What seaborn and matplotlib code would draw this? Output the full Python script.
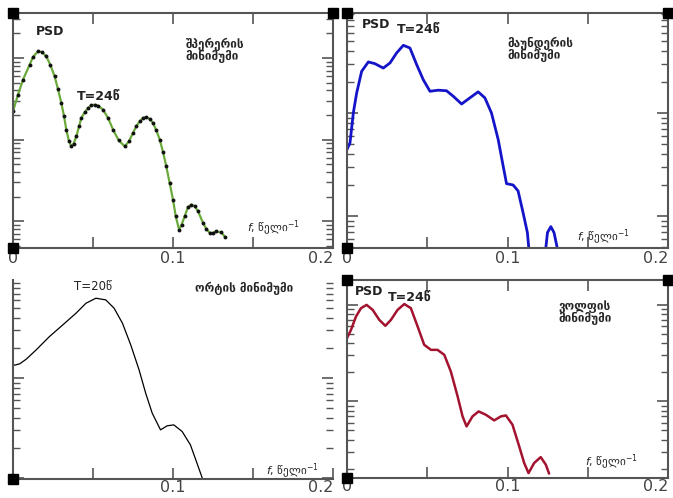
"""
PSD spectra of four solar minima (2x2 panels)
"""

import numpy as np
import pandas as pd
import matplotlib
matplotlib.use('Agg')
import matplotlib.pyplot as plt
import seaborn as sns

# --- data ---
# Spörer minimum
sporer_f = [0.0, 0.003125, 0.00625, 0.0104, 0.0125, 0.0156, 0.0183, 0.0208, 0.0233, 0.026,
            0.0281, 0.0302, 0.0319, 0.0333, 0.035, 0.0365, 0.0379, 0.0396, 0.0413, 0.0427,
            0.0448, 0.0469, 0.049, 0.051, 0.0531, 0.0563, 0.0594, 0.0625, 0.066, 0.0698,
            0.0725, 0.075, 0.0771, 0.0792, 0.0813, 0.0833, 0.0854, 0.0875, 0.0896, 0.0917,
            0.0938, 0.0958, 0.0979, 0.1, 0.1017, 0.1038, 0.1054, 0.1073, 0.1094, 0.1115,
            0.1135, 0.1156, 0.1188, 0.1208, 0.1229, 0.125, 0.1271, 0.1302, 0.1323]
sporer_psd = [22.2, 35.6, 54.3, 82.8, 102.9, 120.7, 117.3, 104.8, 82.8, 59.6,
              41.7, 28.1, 19.3, 13.3, 9.54, 8.28, 8.93, 11.0, 14.6, 18.4,
              21.6, 24.4, 26.3, 26.8, 26.1, 23.3, 18.4, 13.3, 9.81, 8.28,
              9.54, 12.1, 14.6, 16.8, 18.4, 18.9, 17.9, 16.0, 13.0, 10.0,
              7.0, 4.71, 2.95, 1.84, 1.15, 0.79, 0.91, 1.15, 1.50, 1.60,
              1.53, 1.33, 0.95, 0.81, 0.72, 0.72, 0.75, 0.73, 0.65]

# Maunder minimum (two pieces, the curve leaves the axis in between)
maunder_f1 = [0.0, 0.00187, 0.00394, 0.00602, 0.00913, 0.0133, 0.0174, 0.0226, 0.0268,
              0.0309, 0.0351, 0.0392, 0.0434, 0.0475, 0.0517, 0.0568, 0.062, 0.0662,
              0.0714, 0.0766, 0.0817, 0.0859, 0.09, 0.0942, 0.0973, 0.0994, 0.1035,
              0.1066, 0.1097, 0.1124, 0.1145]
maunder_psd1 = [4.42, 5.12, 10.0, 15.6, 25.3, 31.2, 30.0, 27.2, 30.5,
                38.1, 45.2, 42.6, 29.4, 21.0, 16.2, 16.6, 16.4, 14.5,
                12.2, 14.0, 16.0, 14.0, 10.0, 5.52, 3.05, 2.06, 2.00,
                1.75, 1.08, 0.69, 0.3]
maunder_f2 = [0.1224, 0.1249, 0.127, 0.129, 0.1315]
maunder_psd2 = [0.3, 0.69, 0.79, 0.69, 0.45]

# Oort minimum
oort_f = [0.0, 0.00415, 0.00829, 0.0145, 0.0228, 0.0311, 0.0394, 0.0456, 0.0518, 0.058,
          0.0632, 0.0684, 0.0736, 0.0788, 0.0829, 0.087, 0.0922, 0.0964, 0.1005, 0.1057,
          0.1109, 0.115, 0.1185]
oort_psd = [1.34, 1.39, 1.55, 1.92, 2.61, 3.41, 4.47, 5.62, 6.31, 6.07,
            5.01, 3.55, 2.15, 1.21, 0.71, 0.447, 0.304, 0.334, 0.341, 0.293,
            0.215, 0.141, 0.098]

# Wolf minimum
wolf_f = [0.0, 0.00249, 0.0056, 0.00871, 0.0122, 0.016, 0.0201, 0.0239, 0.0274, 0.0315,
          0.0357, 0.0398, 0.044, 0.0481, 0.0523, 0.0564, 0.0606, 0.0647, 0.0689, 0.072,
          0.0745, 0.0782, 0.082, 0.0865, 0.0917, 0.0959, 0.099, 0.1031, 0.1073, 0.1104,
          0.1131, 0.1166, 0.1207, 0.1239, 0.1259]
wolf_psd = [4.52, 5.51, 7.57, 9.24, 10.0, 8.88, 7.0, 6.07, 7.0, 8.88,
            10.2, 9.24, 5.97, 3.86, 3.42, 3.42, 3.04, 2.04, 1.13, 0.70,
            0.551, 0.70, 0.788, 0.728, 0.636, 0.70, 0.716, 0.574, 0.342, 0.230,
            0.181, 0.230, 0.265, 0.221, 0.179]

x_ticks = [0, 0.05, 0.1, 0.15, 0.2]
x_ticklabels = ['0', '', '0.1', '', '0.2']

f_label = r'$f$, წელი$^{-1}$'

sns.set_style('white')
plt.rcParams['font.family'] = ['DejaVu Sans']

fig = plt.figure(figsize=(6.73, 4.98), dpi=100)
W, H = 673, 498


def add_panel(x0, y0, x1, y1):
    return fig.add_axes([x0 / W, 1 - y1 / H, (x1 - x0) / W, (y1 - y0) / H])


def style_panel(ax, ylim, labels=x_ticklabels, frame=True, corners=(), pad=2):
    ax.set_yscale('log')
    ax.set_xlim(0, 0.2)
    ax.set_ylim(*ylim)
    ax.set_xticks(x_ticks)
    ax.set_xticklabels(labels, fontsize=11.5, color='#444444')
    ax.get_xticklabels()[-1].set_ha('right')
    ax.set_xlabel('')
    ax.set_ylabel('')
    ax.tick_params(axis='both', which='both', direction='in', color='#555555',
                   left=True, right=True, top=frame, bottom=True,
                   labelleft=False, pad=pad)
    ax.tick_params(axis='both', which='major', length=8, width=1.2)
    ax.tick_params(axis='y', which='minor', length=5, width=1.0)
    for sp in ax.spines.values():
        sp.set_color('#555555')
        sp.set_linewidth(1.5)
    if not frame:
        ax.spines['top'].set_visible(False)
        ax.spines['right'].set_visible(False)
    for cx, cy in corners:
        ax.plot([cx], [cy], 's', color='black', ms=7, transform=ax.transAxes,
                clip_on=False, zorder=5)


# --- Spörer ---
ax1 = add_panel(13, 13, 333, 248)
df = pd.DataFrame({'f': sporer_f, 'psd': sporer_psd})
sns.lineplot(data=df, x='f', y='psd', ax=ax1, color='#6aaa3a', linewidth=1.6,
             marker='o', markersize=2.8, markeredgewidth=0, markerfacecolor='#111111')
style_panel(ax1, (0.47, 356), corners=[(0, 1), (1, 1), (0, 0)])
ax1.text(0.07, 0.92, 'PSD', transform=ax1.transAxes, fontsize=9, fontweight='bold',
         color='#222222', va='center')
ax1.text(0.2, 0.647, 'T=24წ', transform=ax1.transAxes, fontsize=9, fontweight='bold',
         color='#222222', va='center')
ax1.text(0.54, 0.895, 'შპერერის\nმინიმუმი', transform=ax1.transAxes, fontsize=8.5,
         fontweight='bold', va='top', linespacing=0.95)
ax1.text(0.73, 0.085, f_label, transform=ax1.transAxes, fontsize=8, va='center')

# --- Maunder ---
ax2 = add_panel(347, 13, 668, 248)
sns.lineplot(x=maunder_f1, y=maunder_psd1, ax=ax2, color='#1414c8', linewidth=2)
sns.lineplot(x=maunder_f2, y=maunder_psd2, ax=ax2, color='#1414c8', linewidth=2)
style_panel(ax2, (0.49, 93), corners=[(0, 1), (1, 1), (0, 0)])
ax2.text(0.047, 0.95, 'PSD', transform=ax2.transAxes, fontsize=9, fontweight='bold',
         color='#222222', va='center')
ax2.text(0.155, 0.93, 'T=24წ', transform=ax2.transAxes, fontsize=9, fontweight='bold',
         color='#222222', va='center')
ax2.text(0.5, 0.9, 'მაუნდერის\nმინიმუმი', transform=ax2.transAxes, fontsize=8.5,
         fontweight='bold', va='top', linespacing=0.95)
ax2.text(0.715, 0.045, f_label, transform=ax2.transAxes, fontsize=8, va='center')

# --- Oort ---
ax3 = add_panel(13, 280, 333, 479)
sns.lineplot(x=oort_f, y=oort_psd, ax=ax3, color='black', linewidth=0.9)
style_panel(ax3, (0.098, 9.6), labels=['', '', '0.1', '', '0.2'], frame=False,
            corners=[(0, 0)], pad=0.5)
ax3.tick_params(axis='y', which='both', right=True)
ax3.text(0.19, 0.965, 'T=20წ', transform=ax3.transAxes, fontsize=8.5,
         color='#222222', va='center')
ax3.text(0.57, 0.96, 'ორტის მინიმუმი', transform=ax3.transAxes, fontsize=8.5,
         fontweight='bold', va='center')
ax3.text(0.79, 0.04, f_label, transform=ax3.transAxes, fontsize=8, va='center')

# --- Wolf ---
ax4 = add_panel(347, 280, 668, 478)
sns.lineplot(x=wolf_f, y=wolf_psd, ax=ax4, color='#a3122e', linewidth=1.8)
style_panel(ax4, (0.161, 18.1), corners=[(0, 1), (1, 1), (0, 0)], pad=0.5)
ax4.text(0.025, 0.94, 'PSD', transform=ax4.transAxes, fontsize=9, fontweight='bold',
         color='#222222', va='center')
ax4.text(0.128, 0.915, 'T=24წ', transform=ax4.transAxes, fontsize=9, fontweight='bold',
         color='#222222', va='center')
ax4.text(0.66, 0.9, 'ვოლფის\nმინიმუმი', transform=ax4.transAxes, fontsize=8.5,
         fontweight='bold', va='top', linespacing=0.95)
ax4.text(0.74, 0.08, f_label, transform=ax4.transAxes, fontsize=8, va='center')

fig.savefig('out.png', dpi=100)
plt.close()
